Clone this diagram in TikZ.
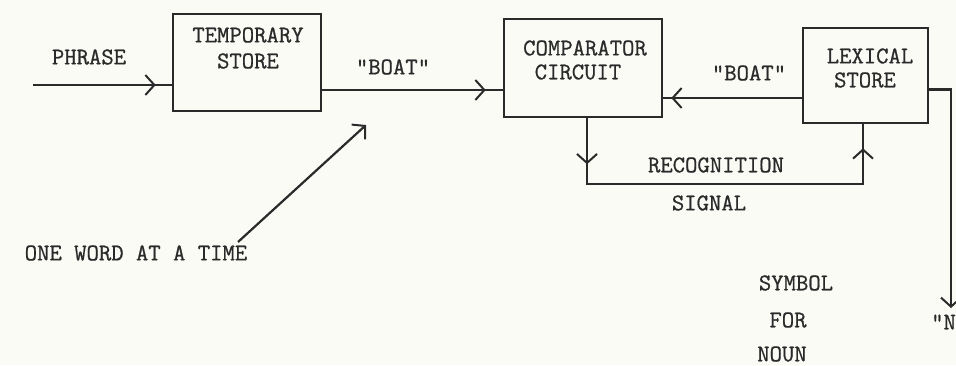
\documentclass[tikz,border=0pt]{standalone}
\usepackage{fontspec}
\usetikzlibrary{arrows.meta,decorations.markings}
\newfontfamily\typew{Latin Modern Mono}[FakeBold=0.8]
\definecolor{ink}{HTML}{2A2A2A}
\definecolor{paper}{HTML}{FBFBF6}
\tikzset{
  chev/.tip={Straight Barb[length=9pt,width=20pt,line width=2pt]},
  txt/.style={font=\fontsize{24}{26}\selectfont\typew\bfseries, text=ink, inner sep=0pt},
  boxnode/.style={draw=ink, line width=2.6pt, inner sep=0pt},
  conn/.style={draw=ink, line width=2.2pt},
  midarrow/.style={postaction={decorate, decoration={markings, mark=at position #1 with {\arrow[ink]{chev}}}}},
  endarrow/.style={-chev}
}
\begin{document}
\begin{tikzpicture}[x=1pt,y=-1pt]
\clip (0,0) rectangle (956,365);
\fill[paper] (0,0) rectangle (956,365);
% boxes
\node[boxnode, minimum width=148pt, minimum height=97pt] (TS) at (247,62.5) {};
\node[boxnode, minimum width=158pt, minimum height=98pt] (C) at (583,68) {};
\node[boxnode, minimum width=125pt, minimum height=95pt] (LS) at (865.5,75.5) {};
% texts
\node[txt] (phrase) at (89,57) {PHRASE};
\node[txt] (tmp) at (248,35) {TEMPORARY};
\node[txt] (tst) at (248,61) {STORE};
\node[txt] (boat1) at (393,67) {"BOAT"};
\node[txt] (cmp) at (585,48) {COMPARATOR};
\node[txt] (cir) at (578,72) {CIRCUIT};
\node[txt] (boat2) at (749,73) {"BOAT"};
\node[txt] (lex) at (870,56) {LEXICAL};
\node[txt] (lst) at (865,80) {STORE};
\node[txt] (rec) at (716,165) {RECOGNITION};
\node[txt] (sig) at (709,203) {SIGNAL};
\node[txt] (sym) at (796,283) {SYMBOL};
\node[txt] (for) at (788,320) {FOR};
\node[txt] (noun) at (782,354) {NOUN};
\node[txt] (one) at (136,253) {ONE WORD AT A TIME};
\node[txt, anchor=west] (nq) at (931,322) {"N};
% coordinates
\coordinate (in) at (33,85);
\coordinate (m1) at (0,90);
\coordinate (m2) at (0,98);
\coordinate (ds) at (238,242);
\coordinate (de) at (366,125);
\coordinate (out) at (951,308);
% connectors
\draw[conn, midarrow=-16pt] (in) -- (in -| TS.west);
\draw[conn, midarrow=-17pt] (TS.east |- m1) -- (C.west |- m1);
\draw[conn, midarrow=-8pt] (LS.west |- m2) -- (C.east |- m2);
\draw[conn, endarrow] (ds) -- (de);
\draw[conn, midarrow=46pt, midarrow=-24pt] ([xshift=4pt]C.south) -- ++(0,66) -| ([xshift=-2.5pt]LS.south);
\draw[conn, endarrow] ([yshift=-14pt]LS.east) -| (out);
\end{tikzpicture}
\end{document}
